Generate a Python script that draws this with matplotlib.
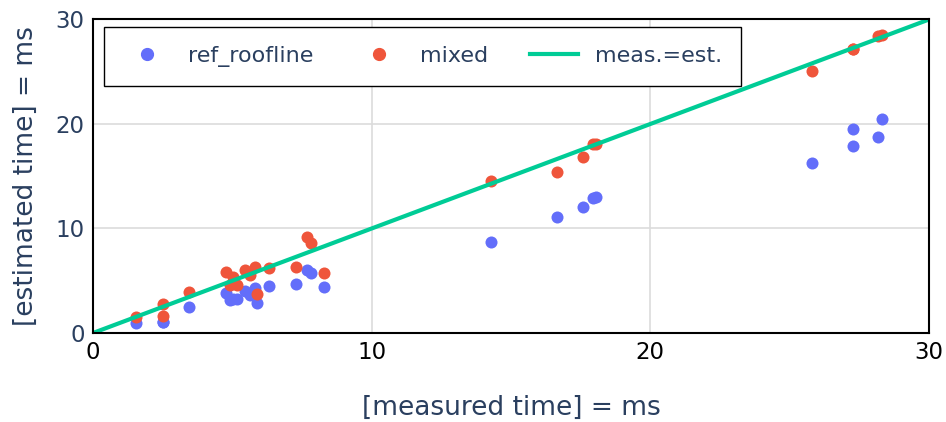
import matplotlib
matplotlib.use("Agg")
import matplotlib.pyplot as plt
from matplotlib.lines import Line2D

plt.rcParams['font.family'] = ['DejaVu Sans']

# measured times (ms)
measured = [1.53, 2.50, 2.52, 3.43, 4.77, 5.01, 4.92, 5.16, 5.47, 5.83, 5.62, 5.90,
            6.33, 7.28, 7.67, 7.82, 8.29, 14.30, 16.64, 17.59, 17.95, 18.05,
            25.82, 27.26, 27.26, 28.18, 28.32]
# estimated by ref_roofline
ref_roofline = [0.93, 1.08, 1.08, 2.52, 3.80, 3.30, 3.16, 3.22, 4.02, 4.27, 3.64, 2.84,
                4.53, 4.69, 6.03, 5.77, 4.37, 8.68, 11.13, 12.09, 12.90, 13.00,
                16.30, 19.52, 17.89, 18.73, 20.48]
# estimated by mixed
mixed = [1.56, 2.78, 1.63, 3.89, 5.80, 5.33, 4.59, 4.59, 6.03, 6.35, 5.55, 3.73,
         6.19, 6.35, 9.16, 8.58, 5.71, 14.57, 15.44, 16.81, 18.05, 18.12,
         25.10, 27.15, 27.15, 28.40, 28.52]

diag = [0, 30]

BLUE = '#636EFA'
RED = '#EF553B'
GREEN = '#00CC96'
TXT = '#2a3f5f'

fig = plt.figure(figsize=(9.46, 4.22), dpi=100)
ax = fig.add_axes([0.0983, 0.2109, 0.8837, 0.7429])

ax.scatter(measured, ref_roofline, s=75, color=BLUE, linewidths=0, zorder=3)
ax.scatter(measured, mixed, s=75, color=RED, linewidths=0, zorder=4)
ax.plot(diag, diag, color=GREEN, lw=3, zorder=5, solid_capstyle='butt')

ax.set_xlim(0, 30)
ax.set_ylim(0, 30)
ax.set_xticks([0, 10, 20, 30])
ax.set_yticks([0, 10, 20, 30])
ax.grid(True, color='#dcdcdc', lw=1.2, zorder=0)
ax.set_axisbelow(True)
for sp in ax.spines.values():
    sp.set_color('black')
    sp.set_linewidth(1.5)
    sp.set_zorder(6)
ax.tick_params(length=0, labelsize=16.5, pad=6)
ax.tick_params(axis='y', labelcolor=TXT)
ax.tick_params(axis='x', labelcolor='black')

ax.set_xlabel('[measured time] = ms', fontsize=19, color=TXT, labelpad=22)
ax.set_ylabel('[estimated time] = ms', fontsize=19, color=TXT, labelpad=12)

handles = [
    Line2D([], [], marker='o', ls='none', color=BLUE, markersize=8.5),
    Line2D([], [], marker='o', ls='none', color=RED, markersize=8.5),
    Line2D([], [], color=GREEN, lw=3),
]
leg = ax.legend(handles, ['ref_roofline', 'mixed', 'meas.=est.'], ncol=3,
                loc='upper left', bbox_to_anchor=(0.013, 0.975),
                borderaxespad=0,
                fontsize=16, frameon=True, fancybox=False,
                edgecolor='black', framealpha=1, borderpad=0.85,
                handlelength=2.2, columnspacing=1.85, handletextpad=0.75,
                labelcolor=TXT)
leg.get_frame().set_linewidth(1)
leg.set_zorder(7)

fig.savefig('out.png', dpi=100)
